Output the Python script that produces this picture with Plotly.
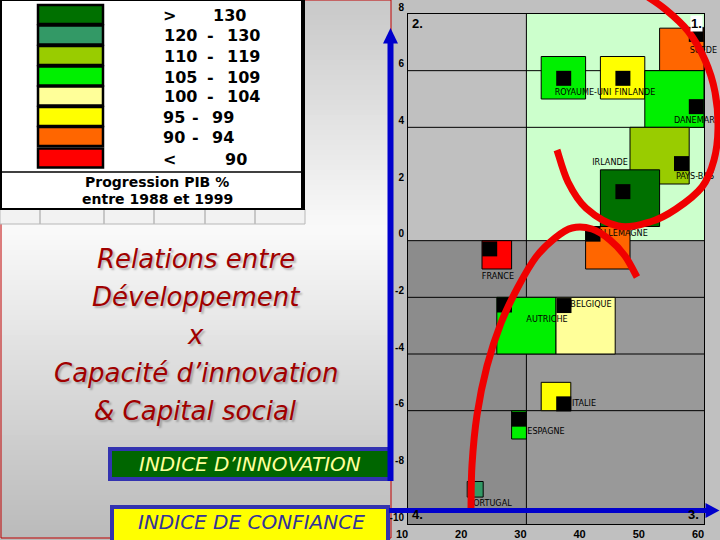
import plotly.graph_objects as go

W, H = 720, 540

# ---------------- DATA ----------------
pays = ["SUEDE", "ROYAUME-UNI", "FINLANDE", "DANEMARK", "PAYS-BAS", "IRLANDE",
        "ALLEMAGNE", "FRANCE", "AUTRICHE", "BELGIQUE", "ITALIE", "ESPAGNE", "PORTUGAL"]
# point position (indice de confiance, indice d'innovation); Portugal's point is hidden
indice_confiance = [58.7, 36.3, 46.3, 58.7, 56.2, 46.3, 41.25, 23.8, 26.3, 36.35, 36.3, 28.75, None]
indice_innovation = [7.28, 5.73, 5.73, 4.73, 2.72, 1.73, 0.23, -0.29, -2.27, -2.29, -5.76, -6.30, None]
# coloured blocks (axis units)
bloc_x0 = [52.5, 32.5, 42.5, 50.0, 47.5, 42.5, 40.0, 22.5, 25.0, 35.0, 32.5, 27.5, 20.0]
bloc_x1 = [60.0, 40.0, 50.0, 60.0, 57.5, 52.5, 47.5, 27.5, 35.0, 45.0, 37.5, 30.0, 22.7]
bloc_y0 = [6.0, 5.0, 5.0, 4.0, 2.0, 0.5, -1.0, -1.0, -4.0, -4.0, -6.0, -7.0, -9.05]
bloc_y1 = [7.5, 6.5, 6.5, 6.0, 4.0, 2.5, 0.5, 0.0, -2.0, -2.0, -5.0, -6.0, -8.5]
classe_pib = ["90 - 94", "105 - 109", "95 - 99", "105 - 109", "110 - 119", "> 130",
              "90 - 94", "< 90", "105 - 109", "100 - 104", "95 - 99", "105 - 109", "120 - 130"]

classes_pib = ["> 130", "120 - 130", "110 - 119", "105 - 109", "100 - 104", "95 - 99", "90 - 94", "< 90"]
x_ticks = [10, 20, 30, 40, 50, 60]
y_ticks = [-10, -8, -6, -4, -2, 0, 2, 4, 6, 8]
seuil_confiance = 30
seuil_innovation = 0
lignes_h = [6, 4, 0, -2, -4, -6]

titre = ["Relations entre", "Développement", "x", "Capacité d’innovation", "& Capital social"]
legende_titre = ["Progression PIB %", "entre 1988 et 1999"]
axe_y_titre = "INDICE D’INNOVATION"
axe_x_titre = "INDICE DE CONFIANCE"

# ---------------- STYLE ----------------
couleurs = {"> 130": "#007000", "120 - 130": "#339966", "110 - 119": "#99cc00",
            "105 - 109": "#00f000", "100 - 104": "#ffff99", "95 - 99": "#ffff00",
            "90 - 94": "#ff6600", "< 90": "#ff0000"}
label_pos = {"SUEDE": (59.9, 6.71), "ROYAUME-UNI": (39.56, 5.21), "FINLANDE": (48.34, 5.21),
             "DANEMARK": (58.82, 4.23), "PAYS-BAS": (58.48, 2.25), "IRLANDE": (44.12, 2.74),
             "ALLEMAGNE": (46.32, 0.26), "FRANCE": (25.2, -1.29), "AUTRICHE": (33.48, -2.8),
             "BELGIQUE": (40.91, -2.27), "ITALIE": (39.73, -5.77), "ESPAGNE": (33.31, -6.75),
             "PORTUGAL": (23.85, -9.3)}

PL, PR, PT, PB = 408, 704, 14, 524  # plot area in pixels


def fx(px):
    return px / W


def fy(py):
    return 1 - py / H


shapes = []
annotations = []

# ---- left panel gradient background ----
def grey(py):
    stops = [(0, 200), (230, 250), (540, 185)]
    for (a, ca), (b, cb) in zip(stops[:-1], stops[1:]):
        if a <= py <= b:
            v = ca + (cb - ca) * (py - a) / (b - a)
            return int(round(v))
    return 185


step = 5
for py in range(0, H, step):
    g = grey(py + step / 2)
    shapes.append(dict(type="rect", xref="paper", yref="paper", x0=fx(0), x1=fx(391),
                       y0=fy(py + step + 0.5), y1=fy(py), fillcolor=f"rgb({g},{g},{g})",
                       line=dict(width=0), layer="below"))
# red border of the left panel
shapes.append(dict(type="rect", xref="paper", yref="paper", x0=fx(1), x1=fx(391), y0=fy(538), y1=fy(0),
                   line=dict(color="#c00000", width=1), fillcolor="rgba(0,0,0,0)", layer="below"))

# ---- quadrants and grid (axis units) ----
quad = [(10, seuil_confiance, seuil_innovation, 8, "#c0c0c0"),
        (seuil_confiance, 60, seuil_innovation, 8, "#ccffcc"),
        (10, seuil_confiance, -10, seuil_innovation, "#8c8c8c"),
        (seuil_confiance, 60, -10, seuil_innovation, "#999999")]
for x0, x1, y0, y1, c in quad:
    shapes.append(dict(type="rect", xref="x", yref="y", x0=x0, x1=x1, y0=y0, y1=y1,
                       fillcolor=c, line=dict(width=0), layer="below"))
for yv in lignes_h:
    shapes.append(dict(type="line", xref="x", yref="y", x0=10, x1=60, y0=yv, y1=yv,
                       line=dict(color="black", width=1), layer="below"))
shapes.append(dict(type="line", xref="x", yref="y", x0=seuil_confiance, x1=seuil_confiance, y0=-10, y1=8,
                   line=dict(color="black", width=1), layer="below"))

# ---- country blocks ----
for i, p in enumerate(pays):
    shapes.append(dict(type="rect", xref="x", yref="y", x0=bloc_x0[i], x1=bloc_x1[i],
                       y0=bloc_y0[i], y1=bloc_y1[i], fillcolor=couleurs[classe_pib[i]],
                       line=dict(color="black", width=1), layer="below"))

# ---- legend box ----
shapes.append(dict(type="rect", xref="paper", yref="paper", x0=fx(0), x1=fx(305), y0=fy(224), y1=fy(209),
                   fillcolor="#f2f2f2", line=dict(color="#b8b8b8", width=1)))
for vx in [40, 104, 154, 205, 255]:
    shapes.append(dict(type="line", xref="paper", yref="paper", x0=fx(vx), x1=fx(vx), y0=fy(224), y1=fy(209),
                       line=dict(color="#b8b8b8", width=1.5)))
shapes.append(dict(type="rect", xref="paper", yref="paper", x0=fx(1), x1=fx(302), y0=fy(209), y1=fy(0),
                   fillcolor="white", line=dict(color="black", width=2)))
shapes.append(dict(type="line", xref="paper", yref="paper", x0=fx(303.5), x1=fx(303.5), y0=fy(210), y1=fy(0),
                   line=dict(color="black", width=3)))
shapes.append(dict(type="line", xref="paper", yref="paper", x0=fx(1), x1=fx(302), y0=fy(172), y1=fy(172),
                   line=dict(color="black", width=1.5)))
row_c = [14.5, 35, 55.5, 76, 96, 116.5, 136.5, 158]
leg_font = dict(family="DejaVu Sans", size=16, color="black", weight="bold")
for k, cl in enumerate(classes_pib):
    yc = row_c[k]
    shapes.append(dict(type="rect", xref="paper", yref="paper", x0=fx(38), x1=fx(103),
                       y0=fy(yc + 9.5), y1=fy(yc - 9.5), fillcolor=couleurs[cl],
                       line=dict(color="black", width=2.5)))
    parts = cl.split()
    if parts[0] in (">", "<"):
        pos = [(169, parts[0]), (236 if len(parts[1]) == 2 else 229, parts[1])]
    elif len(parts[0]) == 3:
        pos = [(180, parts[0]), (210, "-"), (243, parts[2])]
    else:
        pos = [(173.5, parts[0]), (195, "-"), (222.5, parts[2])]
    for xc, t in pos:
        annotations.append(dict(xref="paper", yref="paper", x=fx(xc), y=fy(yc + 1), text=t,
                                showarrow=False, xanchor="center", yanchor="middle", font=leg_font))
for j, (t, yc) in enumerate(zip(legende_titre, [182, 198.5])):
    annotations.append(dict(xref="paper", yref="paper", x=fx(157), y=fy(yc), text=t, showarrow=False,
                            xanchor="center", yanchor="middle",
                            font=dict(family="DejaVu Sans", size=14, color="black", weight="bold")))

# ---- left title ----
for t, yc in zip(titre, [259, 297, 335, 373, 411]):
    annotations.append(dict(xref="paper", yref="paper", x=fx(196), y=fy(yc), text=t, showarrow=False,
                            xanchor="center", yanchor="middle",
                            font=dict(family="DejaVu Sans", size=26, color="#a00000", style="italic",
                                      shadow="2px 2px 2px rgba(0,0,0,0.25)")))

# ---- axis title boxes ----
shapes.append(dict(type="rect", xref="paper", yref="paper", x0=fx(110), x1=fx(390), y0=fy(479), y1=fy(449),
                   fillcolor="#006600", line=dict(color="#3333b0", width=4)))
shapes.append(dict(type="rect", xref="paper", yref="paper", x0=fx(112), x1=fx(388), y0=fy(548), y1=fy(507),
                   fillcolor="#ffff00", line=dict(color="#3333b0", width=4)))
annotations.append(dict(xref="paper", yref="paper", x=fx(250), y=fy(463.5), text=axe_y_titre, showarrow=False,
                        xanchor="center", yanchor="middle",
                        font=dict(family="DejaVu Sans", size=20, color="#ffff99", style="italic")))
annotations.append(dict(xref="paper", yref="paper", x=fx(251), y=fy(522), text=axe_x_titre, showarrow=False,
                        xanchor="center", yanchor="middle",
                        font=dict(family="DejaVu Sans", size=20, color="#333399", style="italic")))

# ---- blue arrows ----
shapes.append(dict(type="line", xref="paper", yref="paper", x0=fx(390.5), x1=fx(390.5), y0=fy(481), y1=fy(42),
                   line=dict(color="#0000cc", width=6)))
shapes.append(dict(type="path", xref="paper", yref="paper",
                   path=f"M {fx(383)},{fy(43.5)} L {fx(398)},{fy(43.5)} L {fx(390.5)},{fy(28)} Z",
                   fillcolor="#0000cc", line=dict(width=0)))
shapes.append(dict(type="line", xref="paper", yref="paper", x0=fx(389), x1=fx(707), y0=fy(510.5), y1=fy(510.5),
                   line=dict(color="#0000cc", width=5)))
shapes.append(dict(type="path", xref="paper", yref="paper",
                   path=f"M {fx(705.5)},{fy(503)} L {fx(705.5)},{fy(518)} L {fx(719.5)},{fy(510.5)} Z",
                   fillcolor="#0000cc", line=dict(width=0)))


# ---- red hand-drawn arcs ----
def smooth_path(pts):
    P = [(fx(x), fy(y)) for x, y in pts]
    d = f"M {P[0][0]:.5f},{P[0][1]:.5f}"
    for i in range(len(P) - 1):
        p0 = P[i - 1] if i > 0 else P[i]
        p1, p2 = P[i], P[i + 1]
        p3 = P[i + 2] if i + 2 < len(P) else P[i + 1]
        c1 = (p1[0] + (p2[0] - p0[0]) / 6, p1[1] + (p2[1] - p0[1]) / 6)
        c2 = (p2[0] - (p3[0] - p1[0]) / 6, p2[1] - (p3[1] - p1[1]) / 6)
        d += f" C {c1[0]:.5f},{c1[1]:.5f} {c2[0]:.5f},{c2[1]:.5f} {p2[0]:.5f},{p2[1]:.5f}"
    return d


arc1 = [(557, 150), (568, 182), (586, 208), (618, 226), (650, 222), (676, 209), (702, 187),
        (714, 160), (718, 128), (715, 92), (705, 60), (688, 31), (665, 9), (645, -5)]
arc2 = [(471, 508), (472, 465), (477, 415), (487, 366), (501, 323), (518, 287), (536, 257),
        (555, 238), (572, 228), (592, 229), (610, 240), (625, 256), (637, 277)]
for arc in (arc1, arc2):
    shapes.append(dict(type="path", xref="paper", yref="paper", path=smooth_path(arc),
                       line=dict(color="#f00000", width=7), layer="above"))

# ---- quadrant numbers ----
qfont = dict(family="Liberation Sans", size=13, color="black", weight="bold")
annotations += [
    dict(x=10, y=8, xref="x", yref="y", text="2.", showarrow=False, xanchor="left", yanchor="top",
         xshift=2, font=qfont),
    dict(x=60, y=8, xref="x", yref="y", text="1.", showarrow=False, xanchor="right", yanchor="top",
         bgcolor="white", borderpad=0, xshift=-1, yshift=-1, font=qfont),
    dict(x=10, y=-10, xref="x", yref="y", text="4.", showarrow=False, xanchor="left", yanchor="bottom",
         xshift=2, font=qfont),
    dict(x=60, y=-10, xref="x", yref="y", text="3.", showarrow=False, xanchor="right", yanchor="bottom",
         xshift=-3, font=qfont),
]

fig = go.Figure()
fig.add_trace(go.Scatter(x=indice_confiance, y=indice_innovation, mode="markers",
                         marker=dict(symbol="square", size=15, color="black", line=dict(width=0)),
                         cliponaxis=False, hoverinfo="skip"))
fig.add_trace(go.Scatter(x=[label_pos[p][0] for p in pays], y=[label_pos[p][1] for p in pays],
                         mode="text", text=pays, textposition="middle center",
                         textfont=dict(family="Liberation Sans Narrow, Arial Narrow, DejaVu Sans Condensed, Liberation Sans",
                                       size=9, color="black"),
                         cliponaxis=False, hoverinfo="skip"))

fig.update_layout(
    template="none",
    width=W, height=H, margin=dict(l=0, r=0, t=0, b=0, pad=0, autoexpand=False),
    paper_bgcolor="#c0c0c0", plot_bgcolor="#c0c0c0", showlegend=False,
    shapes=shapes, annotations=annotations,
    xaxis=dict(domain=[fx(PL), fx(PR)], range=[10, 60], tickvals=x_ticks, ticktext=[str(v) for v in x_ticks],
               automargin=False,
               showgrid=False, zeroline=False, showline=True, mirror=True, linecolor="black", linewidth=1,
               ticks="", ticklabelshift=-6, ticklabelstandoff=0,
               tickfont=dict(family="Liberation Sans", size=11, color="black", weight="bold")),
    yaxis=dict(domain=[fy(PB), fy(PT)], range=[-10, 8], tickvals=y_ticks, ticktext=[str(v) for v in y_ticks],
               automargin=False,
               showgrid=False, zeroline=False, showline=True, mirror=True, linecolor="black", linewidth=1,
               ticks="", ticklabelshift=-7, ticklabelstandoff=1,
               tickfont=dict(family="Liberation Sans", size=10, color="black", weight="bold")),
)

fig.write_html("out.html", config={"displayModeBar": False},
               post_script="document.body.style.margin='0px';")
